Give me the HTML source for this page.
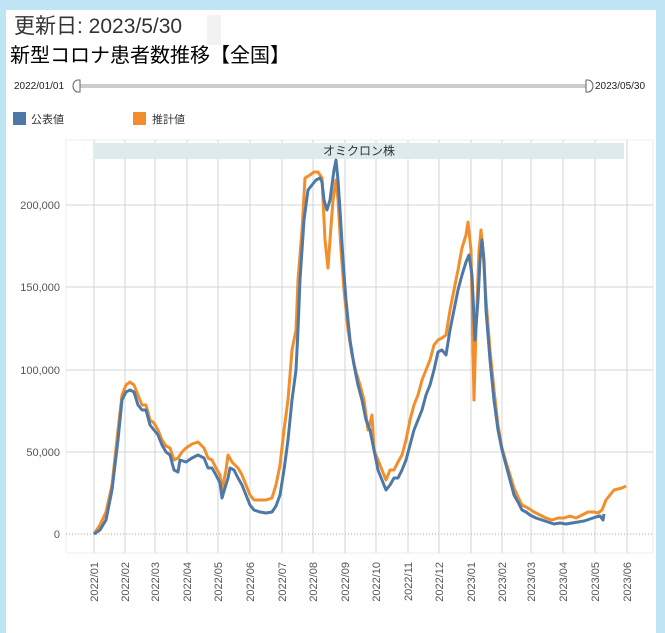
<!DOCTYPE html>
<html><head><meta charset="utf-8"><style>
body{margin:0;width:665px;height:633px;background:#bfe5f5;overflow:hidden;font-family:"Liberation Sans","Noto Sans CJK JP",sans-serif}
#w{position:absolute;left:6px;top:10px;width:650px;height:623px;background:#fff}
</style></head><body>
<div id="w"></div>
<svg width="665" height="633" style="position:absolute;left:0;top:0" font-family="Liberation Sans, Noto Sans CJK JP, sans-serif">
<rect x="207" y="15" width="14" height="30" fill="#f2f2f2"/>
<text x="14" y="33" font-size="21" fill="#333">更新日: 2023/5/30</text>
<text x="10" y="62" font-size="20" fill="#000">新型コロナ患者数推移【全国】</text>
<text x="14" y="89" font-size="10" fill="#222">2022/01/01</text>
<rect x="80" y="84" width="508" height="4" fill="#ccc"/>
<path d="M80,80 h-2 a5,6 0 0 0 0,12 h2 z" fill="#fff" stroke="#666"/>
<path d="M586,80 h2 a5,6 0 0 1 0,12 h-2 z" fill="#fff" stroke="#666"/>
<text x="595" y="89" font-size="10" fill="#222">2023/05/30</text>
<rect x="13" y="112" width="13" height="13" fill="#4e79a7"/>
<text x="31" y="123" font-size="11" fill="#333">公表値</text>
<rect x="133" y="112" width="13" height="13" fill="#f28e2b"/>
<text x="152" y="123" font-size="11" fill="#333">推計値</text>
<rect x="66" y="140" width="587" height="413" fill="none" stroke="#eee"/>
<g stroke="#d4d4d4" stroke-width="1">
<line x1="94" y1="140" x2="94" y2="553"/><line x1="125" y1="140" x2="125" y2="553"/><line x1="155" y1="140" x2="155" y2="553"/><line x1="187" y1="140" x2="187" y2="553"/><line x1="218" y1="140" x2="218" y2="553"/><line x1="250" y1="140" x2="250" y2="553"/><line x1="282" y1="140" x2="282" y2="553"/><line x1="313" y1="140" x2="313" y2="553"/><line x1="345" y1="140" x2="345" y2="553"/><line x1="376" y1="140" x2="376" y2="553"/><line x1="408" y1="140" x2="408" y2="553"/><line x1="439" y1="140" x2="439" y2="553"/><line x1="471" y1="140" x2="471" y2="553"/><line x1="502" y1="140" x2="502" y2="553"/><line x1="531" y1="140" x2="531" y2="553"/><line x1="563" y1="140" x2="563" y2="553"/><line x1="595" y1="140" x2="595" y2="553"/><line x1="627" y1="140" x2="627" y2="553"/>
<line x1="66" y1="205" x2="653" y2="205"/><line x1="66" y1="287" x2="653" y2="287"/><line x1="66" y1="370" x2="653" y2="370"/><line x1="66" y1="452" x2="653" y2="452"/>
</g>
<line x1="66" y1="534" x2="653" y2="534" stroke="#aaa" stroke-dasharray="1,2"/>
<rect x="94" y="143" width="530" height="16" fill="#ddeaee"/>
<text x="359" y="155" font-size="12" fill="#333" text-anchor="middle">オミクロン株</text>
<g font-size="11" fill="#555" text-anchor="end">
<text x="60" y="209">200,000</text><text x="60" y="291">150,000</text><text x="60" y="374">100,000</text><text x="60" y="456">50,000</text><text x="60" y="538">0</text>
</g>
<g font-size="11" fill="#555" text-anchor="end">
<text transform="translate(98,562) rotate(-90)">2022/01</text><text transform="translate(129,562) rotate(-90)">2022/02</text><text transform="translate(159,562) rotate(-90)">2022/03</text><text transform="translate(191,562) rotate(-90)">2022/04</text><text transform="translate(222,562) rotate(-90)">2022/05</text><text transform="translate(254,562) rotate(-90)">2022/06</text><text transform="translate(286,562) rotate(-90)">2022/07</text><text transform="translate(317,562) rotate(-90)">2022/08</text><text transform="translate(349,562) rotate(-90)">2022/09</text><text transform="translate(380,562) rotate(-90)">2022/10</text><text transform="translate(412,562) rotate(-90)">2022/11</text><text transform="translate(443,562) rotate(-90)">2022/12</text><text transform="translate(475,562) rotate(-90)">2023/01</text><text transform="translate(506,562) rotate(-90)">2023/02</text><text transform="translate(535,562) rotate(-90)">2023/03</text><text transform="translate(567,562) rotate(-90)">2023/04</text><text transform="translate(599,562) rotate(-90)">2023/05</text><text transform="translate(631,562) rotate(-90)">2023/06</text>
</g>
<polyline fill="none" stroke="#f28e2b" stroke-width="3" stroke-linejoin="round" points="94,534 100,525 106,512 112,485 118,430 122,395 126,385 130,382 134,385 138,395 142,405 146,405 150,420 154,423 158,430 162,440 166,446 170,448 174,460 178,458 182,452 186,448 192,444 198,442 204,448 208,458 212,460 216,468 220,475 222,490 226,470 228,455 232,462 238,468 242,475 246,485 250,495 254,500 260,500 266,500 272,498 276,485 280,465 284,430 288,400 292,350 296,330 298,280 302,230 305,178 310,175 314,172 318,172 322,178 325,240 328,268 330,240 333,200 336,180 338,200 341,250 344,290 348,330 352,355 356,372 360,385 364,400 368,430 372,415 374,450 378,460 382,470 386,480 390,470 394,470 398,462 402,455 406,440 410,420 414,405 418,395 422,380 426,370 430,360 434,345 438,340 442,338 446,335 450,310 454,290 458,270 462,248 466,235 468,222 471,250 474,400 476,330 479,250 481,230 483,250 486,300 490,350 494,390 498,425 502,448 506,462 510,475 514,488 518,497 522,505 528,508 534,512 540,515 546,518 552,520 558,518 564,518 570,516 576,518 582,515 588,512 594,512 598,513 602,510 606,500 610,495 614,490 618,489 622,488 626,486"/>
<polyline fill="none" stroke="#4e79a7" stroke-width="3" stroke-linejoin="round" points="94,534 100,530 106,520 112,490 118,440 122,400 126,392 130,390 134,392 138,405 142,410 146,410 150,425 154,430 158,435 162,445 166,452 170,455 174,470 178,472 180,460 186,462 192,458 198,455 204,458 208,468 212,468 216,475 220,483 222,498 225,488 228,478 230,468 234,470 238,478 242,485 246,495 250,505 254,510 260,512 266,513 272,512 276,506 280,495 284,470 288,440 292,400 296,370 298,330 300,280 304,220 308,190 312,185 316,180 320,178 322,182 324,200 327,210 330,200 334,170 336,160 338,180 340,210 343,260 346,300 350,340 354,365 358,385 362,400 366,420 370,430 374,450 378,470 382,480 386,490 390,485 394,478 398,478 402,470 406,460 410,445 414,430 418,420 422,410 426,395 430,385 434,370 438,352 442,350 446,355 450,330 454,310 458,290 462,275 466,262 469,255 472,275 475,340 478,300 480,260 482,240 484,260 486,310 490,360 494,400 498,430 502,450 506,465 510,480 514,495 518,502 522,510 526,512 530,515 536,518 542,520 548,522 554,524 560,523 566,524 572,523 578,522 584,521 590,519 596,517 600,516 603,520 604,514"/>
</svg>
</body></html>
